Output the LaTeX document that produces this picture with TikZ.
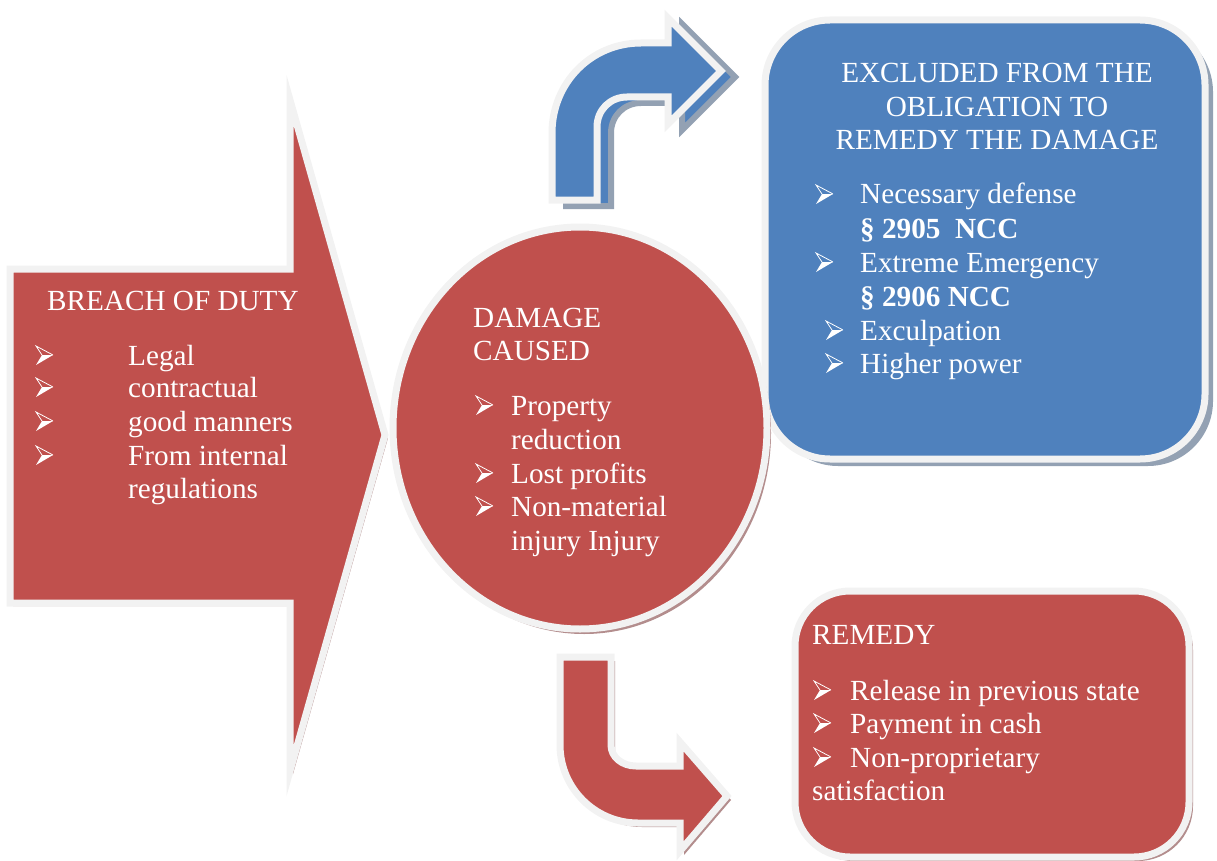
\documentclass[tikz,border=0pt]{standalone}
\usepackage{fontspec}
\setmainfont{Liberation Serif}
\definecolor{myred}{HTML}{C0504D}
\definecolor{myblue}{HTML}{4F81BD}
\definecolor{rim}{HTML}{F2F2F2}
\definecolor{redshadow}{HTML}{B38D8D}
\definecolor{blueshadow}{HTML}{93A1B3}
\begin{document}
\begin{tikzpicture}[x=1pt,y=-1pt,line join=miter,
  rimline/.style={draw=rim,line width=7pt},
  t/.style={inner sep=0pt,anchor=base west,text=white,font=\fontsize{29.2}{33.5}\selectfont},
  tc/.style={t,anchor=base},
  bul/.pic={
    \fill[white] (7,-10) -- (18,-10) -- (1,0) -- cycle;
    \draw[white,line width=0.8pt] (7,-10) -- (1,-19) -- (18,-10);
  }]
\useasboundingbox (0,0) rectangle (1217,861);

% big red arrow (breach of duty)
\fill[redshadow,shift={(3,3)}] (10,269) -- (290,269) -- (290,100) -- (385,435) -- (290,771) -- (290,603) -- (10,603) -- cycle;
\filldraw[fill=myred,rimline] (10,269) -- (290,269) -- (290,100) -- (385,435) -- (290,771) -- (290,603) -- (10,603) -- cycle;

% blue box
\fill[blueshadow,rounded corners=65pt] (773,27) rectangle (1213,466);
\filldraw[fill=myblue,rimline,rounded corners=65pt] (765,20) rectangle (1205,459);

% circle
\fill[redshadow] (584,433) ellipse [x radius=187,y radius=201];
\filldraw[fill=myred,rimline] (580,428) ellipse [x radius=187,y radius=201];

% blue bent arrow
\filldraw[fill=myblue,draw=blueshadow,line width=6pt,shift={(14,6)}] (552,200) -- (552,133) .. controls (552,83) and (591,43) .. (641,43) -- (668,43) -- (668,18) -- (721,71) -- (668,124) -- (668,97) -- (627,97) .. controls (610,97) and (597,110) .. (597,127) -- (597,200) -- cycle;
\filldraw[fill=myblue,rimline] (552,200) -- (552,133) .. controls (552,83) and (591,43) .. (641,43) -- (668,43) -- (668,18) -- (721,71) -- (668,124) -- (668,97) -- (627,97) .. controls (610,97) and (597,110) .. (597,127) -- (597,200) -- cycle;

% red bent arrow
\fill[redshadow,shift={(4,4)}] (560,657) -- (560,745) .. controls (560,788) and (595,823) .. (638,823) -- (680,823) -- (680,851) -- (727,796) -- (680,742) -- (680,766) -- (636,766) .. controls (622,766) and (611,757) .. (611,745) -- (611,657) -- cycle;
\filldraw[fill=myred,rimline] (560,657) -- (560,745) .. controls (560,788) and (595,823) .. (638,823) -- (680,823) -- (680,851) -- (727,796) -- (680,742) -- (680,766) -- (636,766) .. controls (622,766) and (611,757) .. (611,745) -- (611,657) -- cycle;

% remedy box
\fill[redshadow,rounded corners=55pt] (799,595) rectangle (1193,861);
\filldraw[fill=myred,rimline,rounded corners=55pt] (795,591) rectangle (1189,857);

% breach texts
\node[t] (breach) at (47,310) {BREACH OF DUTY};
\node[t] (b1) at (128,365) {Legal};
\node[t] (b2) at (128,397) {contractual};
\node[t] (b3) at (128,431) {good manners};
\node[t] (b4) at (128,465) {From internal};
\node[t] (b5) at (128,498) {regulations};
\pic at (35,365) {bul};
\pic at (35,397) {bul};
\pic at (35,431) {bul};
\pic at (35,465) {bul};

% circle texts
\node[t] (d1) at (473,327) {DAMAGE};
\node[t] (d2) at (473,360) {CAUSED};
\node[t] (c1) at (511,415) {Property};
\node[t] (c2) at (511,449) {reduction};
\node[t] (c3) at (511,483) {Lost profits};
\node[t] (c4) at (511,516) {Non-material};
\node[t] (c5) at (511,550) {injury Injury};
\pic at (475,415) {bul};
\pic at (475,483) {bul};
\pic at (475,516) {bul};

% blue box texts
\node[tc] (e1) at (997,83) {EXCLUDED FROM THE};
\node[tc] (e2) at (997,117) {OBLIGATION TO};
\node[tc] (e3) at (997,150) {REMEDY THE DAMAGE};
\node[t] (x1) at (860,204) {Necessary defense};
\node[t,font=\fontsize{29.2}{33.5}\selectfont\bfseries] (x2) at (860,238) {§ 2905\ \ NCC};
\node[t] (x3) at (860,272) {Extreme Emergency};
\node[t,font=\fontsize{29.2}{33.5}\selectfont\bfseries] (x4) at (860,306) {§ 2906 NCC};
\node[t] (x5) at (860,340) {Exculpation};
\node[t] (x6) at (860,373) {Higher power};
\pic at (815,204) {bul};
\pic at (815,272) {bul};
\pic at (825,340) {bul};
\pic at (825,373) {bul};

% remedy texts
\node[t] (r0) at (812,644) {REMEDY};
\node[t] (r1) at (850,700) {Release in previous state};
\node[t] (r2) at (850,733) {Payment in cash};
\node[t] (r3) at (850,767) {Non-proprietary};
\node[t] (r4) at (812,800) {satisfaction};
\pic at (813,700) {bul};
\pic at (813,733) {bul};
\pic at (813,767) {bul};
\end{tikzpicture}
\end{document}
